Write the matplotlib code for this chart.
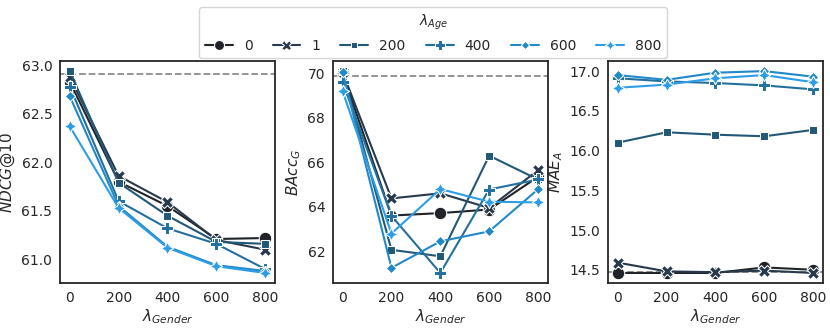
import numpy as np
import matplotlib
matplotlib.use('Agg')
import matplotlib.pyplot as plt
import seaborn as sns

# ---------------------------------------------------------------
# Datos
# ---------------------------------------------------------------
lambda_gender = [0, 200, 400, 600, 800]
lambda_age = ['0', '1', '200', '400', '600', '800']

ndcg = {
    '0':   [62.83, 61.80, 61.55, 61.21, 61.22],
    '1':   [62.88, 61.86, 61.59, 61.20, 61.10],
    '200': [62.94, 61.79, 61.45, 61.18, 61.16],
    '400': [62.78, 61.60, 61.32, 61.16, 60.90],
    '600': [62.68, 61.55, 61.13, 60.94, 60.88],
    '800': [62.37, 61.53, 61.12, 60.93, 60.86],
}
bacc = {
    '0':   [70.00, 63.61, 63.72, 63.88, 65.35],
    '1':   [70.05, 64.38, 64.61, 63.95, 65.65],
    '200': [70.10, 62.07, 61.78, 66.30, 65.23],
    '400': [69.60, 63.60, 61.03, 64.78, 65.23],
    '600': [70.05, 61.26, 62.45, 62.90, 64.79],
    '800': [69.20, 62.80, 64.80, 64.23, 64.20],
}
mae = {
    '0':   [14.46, 14.46, 14.46, 14.53, 14.50],
    '1':   [14.59, 14.48, 14.47, 14.49, 14.46],
    '200': [16.10, 16.23, 16.20, 16.18, 16.26],
    '400': [16.91, 16.87, 16.85, 16.82, 16.77],
    '600': [16.95, 16.89, 16.98, 17.00, 16.93],
    '800': [16.79, 16.83, 16.91, 16.95, 16.86],
}
baselines = [62.91, 69.87, 14.47]
ylabels = [r'$NDCG@10$', r'$BAcc_G$', r'$MAE_A$']

colors = ['#202428', '#27394b', '#225877', '#23709f', '#2189c7', '#2c9de6']
markers = ['o', 'X', (4, 0, 45), 'P', (4, 0, 0), (4, 1, 0)]
msizes = [9, 9, 7.5, 9, 7.5, 9]

# ---------------------------------------------------------------
# Figura
# ---------------------------------------------------------------
sns.set_style('white')
plt.rcParams['font.family'] = ['DejaVu Sans']

fig = plt.figure(figsize=(8.3, 3.28), dpi=100)
lefts = [0.0723, 0.401, 0.7325]
axes = [fig.add_axes([l, 0.137, 0.259, 0.677]) for l in lefts]

handles = []
for ax, data, base, ylab in zip(axes, [ndcg, bacc, mae], baselines, ylabels):
    ax.axhline(base, color='#8c8c8c', ls='--', lw=1.3, zorder=1)
    for i, k in enumerate(lambda_age):
        h, = ax.plot(lambda_gender, data[k], color=colors[i], marker=markers[i],
                     ms=msizes[i], mec='white', mew=0.75, lw=1.5, label=k, zorder=2 + i)
        if ax is axes[0]:
            handles.append(h)
    ax.set_xticks(lambda_gender)
    ax.set_xlabel(r'$\lambda_{Gender}$', fontsize=11, labelpad=2)
    ax.set_ylabel(ylab, fontsize=11, labelpad=3)
    ax.tick_params(labelsize=10, pad=2)
    for s in ax.spines.values():
        s.set_color('#262626')
        s.set_linewidth(1.3)

axes[0].set_yticks([61.0, 61.5, 62.0, 62.5, 63.0])
axes[1].set_yticks([62, 64, 66, 68, 70])
axes[2].set_yticks([14.5, 15.0, 15.5, 16.0, 16.5, 17.0])

leg = fig.legend(handles=handles, labels=lambda_age, title=r'$\lambda_{Age}$',
                 loc='upper center', bbox_to_anchor=(0.522, 1.0), ncol=6,
                 fontsize=10, title_fontsize=10, frameon=True,
                 handlelength=2.0, columnspacing=1.45, borderpad=0.4,
                 handletextpad=0.8, markerscale=0.8)
leg.get_frame().set_edgecolor('#cccccc')

fig.savefig('out.png', dpi=100)
